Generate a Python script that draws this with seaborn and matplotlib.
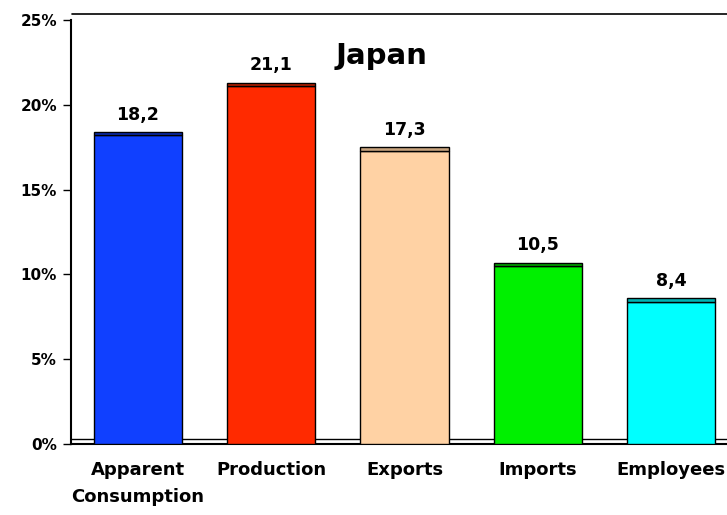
import matplotlib
matplotlib.use("Agg")
import matplotlib.pyplot as plt
import seaborn as sns
import numpy as np
import pandas as pd

categories = ["Apparent\nConsumption", "Production", "Exports", "Imports", "Employees"]
values = [18.2, 21.1, 17.3, 10.5, 8.4]
value_labels = ["18,2", "21,1", "17,3", "10,5", "8,4"]
bar_colors = ["#1040ff", "#ff2a00", "#ffd2a4", "#00f000", "#00ffff"]
cap_colors = ["#0a2cb0", "#b81e00", "#c8a47e", "#00a800", "#00b4b4"]
yticks = [0, 5, 10, 15, 20, 25]
ytick_labels = ["0%", "5%", "10%", "15%", "20%", "25%"]

sns.set_style("white")
plt.rcParams["font.family"] = ["DejaVu Sans"]
plt.rcParams["font.weight"] = "bold"
plt.rcParams["text.color"] = "black"
plt.rcParams["xtick.color"] = "black"
plt.rcParams["ytick.color"] = "black"

fig = plt.figure(figsize=(7.27, 5.15), dpi=100)
ax = fig.add_axes([71 / 727, 71 / 515, 667 / 727, 424 / 515])

df = pd.DataFrame({"cat": categories, "val": values})
sns.barplot(data=df, x="cat", y="val", hue="cat", palette=bar_colors,
            saturation=1, width=0.66, edgecolor="black", linewidth=1,
            legend=False, ax=ax, zorder=3)

# thin top face of the 3d columns
cap_h = 0.2
ax.bar(np.arange(len(values)), cap_h, bottom=values, width=0.66,
       color=cap_colors, edgecolor="black", linewidth=1, zorder=4)

for i, (v, lab) in enumerate(zip(values, value_labels)):
    ax.annotate(lab, (i, v + cap_h), xytext=(0, 6), textcoords="offset points",
                ha="center", va="bottom", fontsize=12.5, fontweight="bold",
                color="black")

# back wall / floor of the excel 3d chart
ax.axhline(0.3, color="black", lw=1, zorder=1)
ax.axhline(25.35, xmin=0.002, color="black", lw=1.2, zorder=1, clip_on=False)

ax.set_xlim(-0.5, 4.5)
ax.set_ylim(0, 25)
ax.set_yticks(yticks)
ax.set_yticklabels(ytick_labels, fontsize=11, fontweight="bold")
ax.set_xticks(range(len(categories)))
ax.set_xticklabels(categories, fontsize=13, fontweight="bold", linespacing=1.65)
ax.set_xticks(np.arange(-0.5, 5, 1), minor=True)
ax.tick_params(axis="x", which="major", length=0, pad=12)
ax.tick_params(axis="x", which="minor", length=4, width=1, direction="out", color="black")
ax.tick_params(axis="y", length=6, width=1, direction="out", color="black", left=True, pad=4)
ax.set_xlabel("")
ax.set_ylabel("")

for s in ["top", "right"]:
    ax.spines[s].set_visible(False)
for s in ["left", "bottom"]:
    ax.spines[s].set_color("black")
    ax.spines[s].set_linewidth(1.5)

ax.text(0.465, 0.915, "Japan", transform=ax.transAxes, ha="center", va="center",
        fontsize=21, fontweight="bold", color="black")

fig.savefig("out.png", dpi=100)
